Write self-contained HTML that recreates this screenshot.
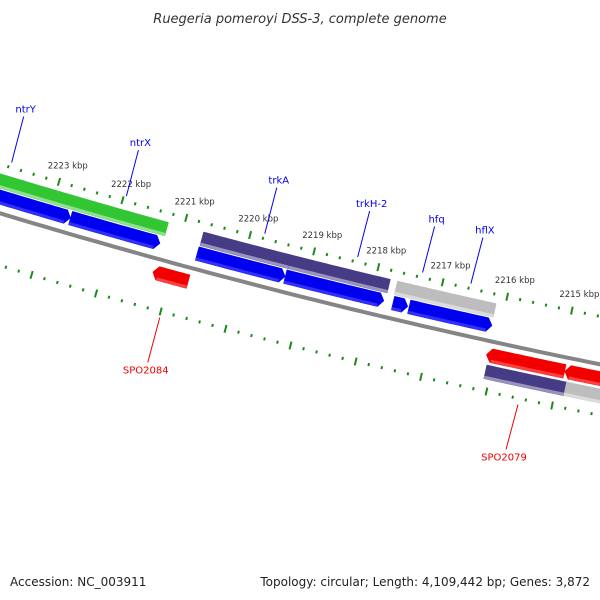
<!DOCTYPE html>
<html><head><meta charset="utf-8"><style>
html,body{margin:0;padding:0;background:#fff;}
svg{display:block;font-family:"DejaVu Sans","Liberation Sans",sans-serif;}
</style></head><body>
<svg id="map" width="600" height="600" viewBox="0 0 600 600" xmlns="http://www.w3.org/2000/svg">
<rect width="600" height="600" fill="#fff"/>
<text x="300" y="23" text-anchor="middle" font-size="13" font-style="italic" fill="#333">Ruegeria pomeroyi DSS-3, complete genome</text>
<text x="10" y="586" font-size="12" fill="#222">Accession: NC_003911</text>
<text x="590" y="586" text-anchor="end" font-size="12" fill="#222">Topology: circular; Length: 4,109,442 bp; Genes: 3,872</text>
<g id="layer"></g>
</svg>
<script>
// ---- data ----
const majorTicks = [2224, 2223, 2222, 2221, 2220, 2219, 2218, 2217, 2216, 2215, 2214];
const tickLabels = ["2223 kbp","2222 kbp","2221 kbp","2220 kbp","2219 kbp","2218 kbp","2217 kbp","2216 kbp","2215 kbp"];
const tickLabelKbp = [2223, 2222, 2221, 2220, 2219, 2218, 2217, 2216, 2215];
// forward strand, ring 1 (arrows)
const fwdArrowStart = [2224.09, 2222.68, 2220.70, 2219.33, 2217.66, 2217.41];
const fwdArrowEnd   = [2222.68, 2221.28, 2219.33, 2217.80, 2217.43, 2216.13];
// forward strand, ring 2 (COG blocks)
const fwdBlockStart = [2224.16, 2222.66, 2220.69, 2219.32, 2217.67];
const fwdBlockEnd   = [2222.66, 2221.24, 2219.32, 2217.78, 2216.14];
const fwdBlockColor = ["#33c633", "#33c633", "#463c86", "#463c86", "#bdbdbd"];
// reverse strand ring 1 (arrows)
const revArrowStart = [2221.27, 2216.12, 2214.92];
const revArrowEnd   = [2220.72, 2214.92, 2213.99];
// reverse strand ring 2
const revBlockStart = [2216.08, 2214.86];
const revBlockEnd   = [2214.86, 2213.93];
const revBlockColor = ["#463c86", "#bdbdbd"];
// gene labels
const fwdLabels = ["ntrY","ntrX","trkA","trkH-2","hfq","hflX"];
const fwdLabelKbp = [2223.77, 2221.96, 2219.79, 2218.34, 2217.33, 2216.58];
const revLabels = ["SPO2084","SPO2079"];
const revLabelKbp = [2220.99, 2215.50];

// ---- geometry ----
const CX = 1905, CY = -6087, R = 6582, K0 = 2223.71, PHI0 = 106.82, DPHI = 0.5797;
function pos(kbp, off){
  const phi = (PHI0 - (K0 - kbp) * DPHI) * Math.PI / 180;
  const r = R - off;
  return [CX + r * Math.cos(phi), CY + r * Math.sin(phi)];
}
const layer = document.getElementById('layer');
const NS = 'http://www.w3.org/2000/svg';
function mk(tag, attrs){ const e = document.createElementNS(NS, tag); for (const k in attrs) e.setAttribute(k, attrs[k]); layer.appendChild(e); return e; }
function pts(list){ return list.map(p => p[0].toFixed(1) + ',' + p[1].toFixed(1)).join(' '); }
function band(a, b, off, hw){
  const o = [], i = [];
  for (let s = 0; s <= 20; s++){ const k = a + (b - a) * s / 20; o.push(pos(k, off + hw)); i.push(pos(k, off - hw)); }
  return o.concat(i.reverse());
}
function arrowShape(a, b, off, hw){
  // tip at b
  const head = 0.075 * Math.sign(b - a);
  const bb = b - head;
  const o = [], i = [];
  for (let s = 0; s <= 20; s++){ const k = a + (bb - a) * s / 20; o.push(pos(k, off + hw)); i.push(pos(k, off - hw)); }
  return o.concat([pos(b, off)], i.reverse());
}

// backbone
const bb = [];
for (let s = 0; s <= 60; s++){ bb.push(pos(2224.3 - s * 11 / 60, 0)); }
let e = mk('polyline', {points: pts(bb), fill: 'none', stroke: '#858585', 'stroke-width': 4});



// ticks
for (let t = 0; t <= 55; t++){
  const k = 2224.2 - t * 0.2;
  const isMajor = Math.abs(k - Math.round(k)) < 0.01;
  const len = isMajor ? 4 : 1.5;
  [47, -50].forEach(function(off){
    const p1 = pos(k, off - len), p2 = pos(k, off + len);
    const tk = mk('line', {x1: p1[0], y1: p1[1], x2: p2[0], y2: p2[1], stroke: '#1b8a1b', 'stroke-width': 2});
    
    
  });
}
tickLabels.forEach(function(lbl, i){
  const p = pos(tickLabelKbp[i], 64);
  const t = mk('text', {x: p[0] + 4, y: p[1] + 3, 'text-anchor': 'middle', 'font-size': 8.5, fill: '#333'});
  t.textContent = lbl;
  
  
});

// features
function drawFeature(shape, color, name){
  const g = mk('polygon', {points: pts(shape), fill: color, stroke: color, 'stroke-width': 0.5});
  
  
}
function drawHighlight(a, b, off, hw, color){
  const h = mk('polygon', {points: pts(band(a, b, off - hw + 1.5, 1.5)), fill: color, opacity: 0.45});
  
  
}
fwdBlockStart.forEach(function(a, i){
  drawFeature(band(a, fwdBlockEnd[i], 31, 7), fwdBlockColor[i], 'forward-cog-block');
  drawHighlight(a, fwdBlockEnd[i], 31, 7, '#fff');
});
fwdArrowStart.forEach(function(a, i){
  drawFeature(arrowShape(a, fwdArrowEnd[i], 15.5, 7), '#0000f0', 'forward-gene');
  drawHighlight(a, fwdArrowEnd[i] + 0.08, 15.5, 7, '#6a6aff');
});
revArrowStart.forEach(function(a, i){
  drawFeature(arrowShape(revArrowEnd[i], a, -14, 7), '#f20000', 'reverse-gene');
  drawHighlight(a - 0.08, revArrowEnd[i], -14, 7, '#ff9090');
});
revBlockStart.forEach(function(a, i){
  drawFeature(band(a, revBlockEnd[i], -31, 7), revBlockColor[i], 'reverse-cog-block');
  drawHighlight(a, revBlockEnd[i], -31, 7, '#fff');
});

// gene labels
fwdLabels.forEach(function(lbl, i){
  const p = pos(fwdLabelKbp[i], 52);
  const ln = mk('line', {x1: p[0], y1: p[1], x2: p[0] + 12, y2: p[1] - 46, stroke: '#0000ee', 'stroke-width': 1});
  
  
  const t = mk('text', {x: p[0] + 14, y: p[1] - 50, 'text-anchor': 'middle', 'font-size': 10, fill: '#0000ee'});
  t.textContent = lbl;
  
  
});
revLabels.forEach(function(lbl, i){
  const p = pos(revLabelKbp[i], -56);
  const ln = mk('line', {x1: p[0], y1: p[1], x2: p[0] - 12, y2: p[1] + 45, stroke: '#ee0000', 'stroke-width': 1});
  
  
  const t = mk('text', {x: p[0] - 14, y: p[1] + 56, 'text-anchor': 'middle', 'font-size': 10, fill: '#ee0000'});
  t.textContent = lbl;
  
  
});
</script>
</body></html>
